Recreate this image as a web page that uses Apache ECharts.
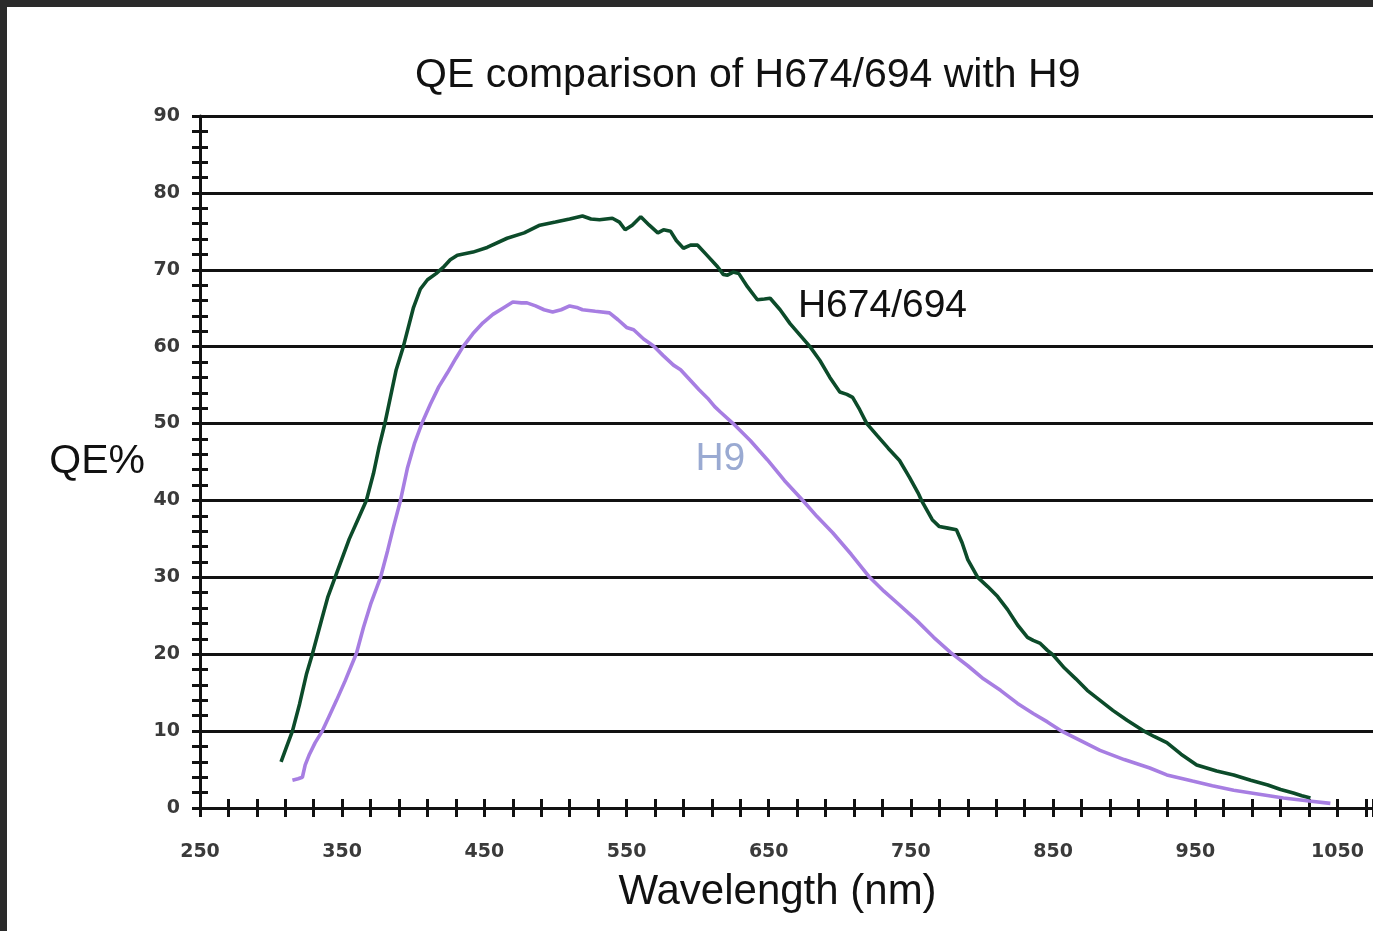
<!DOCTYPE html>
<html>
<head>
<meta charset="utf-8">
<script src="https://cdn.jsdelivr.net/npm/echarts@6/dist/echarts.min.js"></script>
<style>
  html, body { margin: 0; padding: 0; background: #2b2b2b; width: 1373px; height: 931px; overflow: hidden; }
  #chart { position: absolute; left: 7px; top: 7px; width: 1366px; height: 924px; background: #ffffff; }
</style>
</head>
<body>
<div id="chart"></div>
<script>
// ---- data ----
const titleText = 'QE comparison of H674/694 with H9';
const xName = 'Wavelength (nm)';
const yName = 'QE%';
const xRange = [250, 1075];
const yRange = [0, 90];

const h674Wavelength = [307,311,315,320,325,329,336,340,345,350,355,361,367,372,376,380,384,388,393,400,405,410,416,421,426,431,442,452,466,478,489,500,510,519,525,531,540,545,549,554,560,566,572,576,581,585,590,595,600,606,614,618,621,625,629,635,642,647,651,658,665,672,679,686,693,700,705,709,714,719,726,734,742,749,755,758,765,770,776,782,786,790,797,804,811,818,825,832,836,841,846,850,858,866,874,883,892,902,913,921,930,940,951,965,977,989,1001,1010,1019,1025,1031];
const h674QE = [6.0,8.0,10.0,13.5,17.5,20.0,24.8,27.5,30.0,32.5,35.0,37.5,40.0,43.5,47.0,50.0,53.5,57.0,60.0,65.0,67.5,68.7,69.5,70.3,71.3,71.9,72.3,72.9,74.1,74.8,75.8,76.2,76.6,77.0,76.6,76.5,76.7,76.2,75.2,75.8,76.9,75.8,74.8,75.2,75.0,73.8,72.8,73.2,73.2,72.0,70.4,69.4,69.3,69.7,69.5,67.8,66.1,66.2,66.3,64.8,63.0,61.5,60.0,58.2,56.0,54.1,53.8,53.4,51.8,50.0,48.5,46.8,45.2,43.0,41.0,39.8,37.5,36.6,36.4,36.2,34.5,32.3,30.0,28.8,27.5,25.8,23.8,22.2,21.8,21.4,20.5,19.9,18.2,16.8,15.3,14.0,12.7,11.4,10.1,9.3,8.5,7.0,5.6,4.8,4.3,3.6,3.0,2.4,1.95,1.6,1.3];

const h9Wavelength = [315,319,322,324,327,331,336,341,346,352,356,360,365,370,377,382,386,391,396,401,406,412,418,424,430,435,442,449,456,463,470,476,480,486,492,498,504,510,515,519,528,538,544,550,555,562,569,576,583,588,595,601,607,612,616,625,637,649,661,674,684,695,708,721,731,742,754,766,778,790,801,813,825,836,846,855,869,883,900,918,930,948,962,977,995,1012,1030,1045];
const h9QE = [3.6,3.8,4.0,5.6,7.0,8.5,10.0,12.0,14.0,16.5,18.3,20.1,23.5,26.5,30.0,33.5,36.5,40.0,44.3,47.5,50.0,52.5,54.8,56.6,58.5,60.0,61.7,63.1,64.2,65.0,65.8,65.7,65.7,65.3,64.8,64.5,64.8,65.3,65.1,64.8,64.6,64.4,63.5,62.5,62.2,61.0,60.1,58.8,57.6,57.0,55.6,54.4,53.3,52.2,51.5,50.0,47.8,45.3,42.6,40.0,37.9,35.8,33.0,30.0,28.2,26.4,24.4,22.2,20.2,18.5,16.8,15.3,13.6,12.3,11.2,10.1,8.8,7.5,6.3,5.2,4.3,3.5,2.9,2.3,1.8,1.3,0.9,0.6];

const seriesNames = ['H674/694', 'H9'];
const labelAnchors = [[730, 65.3], [616, 45.3]];

// ---- chart ----
const pairs = (xs, ys) => xs.map((x, i) => [x, ys[i]]);
const FONT = 'Liberation Sans, Arial, sans-serif';
const TICKFONT = 'DejaVu Sans, Verdana, sans-serif';
const INK = '#111111';
const TICKINK = '#3a3a3a';

const chart = echarts.init(document.getElementById('chart'), null, { renderer: 'canvas' });
chart.setOption({
  animation: false,
  backgroundColor: '#ffffff',
  title: {
    text: titleText,
    left: 403,
    top: 43,
    textStyle: { fontFamily: FONT, fontSize: 41, fontWeight: 'normal', color: INK }
  },
  grid: { left: 193, right: 0, top: 109, bottom: 123, containLabel: false },
  xAxis: [
    {
      type: 'value', min: xRange[0], max: xRange[1], interval: 100, position: 'bottom',
      axisLine: { onZero: false, lineStyle: { color: INK, width: 3 } },
      axisTick: { show: false },
      splitLine: { show: false },
      axisLabel: { showMaxLabel: false, margin: 35, fontFamily: TICKFONT, fontSize: 19, fontWeight: 'bold', color: TICKINK,
                   formatter: v => String(v) },
      name: xName, nameLocation: 'middle', nameGap: 63,
      nameTextStyle: { fontFamily: FONT, fontSize: 42, color: INK, padding: [0, 18, 0, 0] }
    },
    {
      type: 'value', min: xRange[0], max: xRange[1], interval: 20, position: 'bottom', offset: -9,
      axisLine: { show: false, onZero: false },
      axisTick: { show: true, length: 18, lineStyle: { color: INK, width: 3 } },
      axisLabel: { show: false },
      splitLine: { show: false }
    }
  ],
  yAxis: [
    {
      type: 'value', min: yRange[0], max: yRange[1], interval: 10, position: 'left',
      axisLine: { show: true, onZero: false, lineStyle: { color: INK, width: 3 } },
      axisTick: { show: false },
      splitLine: { show: true, lineStyle: { color: INK, width: 3 } },
      axisLabel: { margin: 20, fontFamily: TICKFONT, fontSize: 19, fontWeight: 'bold', color: TICKINK },
      name: yName, nameLocation: 'middle', nameRotate: 0, nameGap: 55,
      nameTextStyle: { fontFamily: FONT, fontSize: 41, color: INK }
    },
    {
      type: 'value', min: yRange[0], max: yRange[1], interval: 2, position: 'left', offset: -8,
      axisLine: { show: false, onZero: false },
      axisTick: { show: true, length: 16, lineStyle: { color: INK, width: 3 } },
      axisLabel: { show: false },
      splitLine: { show: false }
    }
  ],
  series: [
    {
      name: seriesNames[0], type: 'line', xAxisIndex: 0, yAxisIndex: 0,
      data: pairs(h674Wavelength, h674QE), showSymbol: false, symbol: 'none',
      lineStyle: { color: '#0c4b2a', width: 3.6 }, z: 5,
      markPoint: {
        silent: true, symbol: 'circle', symbolSize: 0,
        data: [{ coord: labelAnchors[0] }],
        label: { show: true, position: 'inside', formatter: seriesNames[0], fontFamily: FONT, fontSize: 39, color: INK }
      }
    },
    {
      name: seriesNames[1], type: 'line', xAxisIndex: 0, yAxisIndex: 0,
      data: pairs(h9Wavelength, h9QE), showSymbol: false, symbol: 'none',
      lineStyle: { color: '#a77ee2', width: 3.6 }, z: 6,
      markPoint: {
        silent: true, symbol: 'circle', symbolSize: 0,
        data: [{ coord: labelAnchors[1] }],
        label: { show: true, position: 'inside', formatter: seriesNames[1], fontFamily: FONT, fontSize: 39, color: '#9aaad2' }
      }
    }
  ]
});
</script>
</body>
</html>
